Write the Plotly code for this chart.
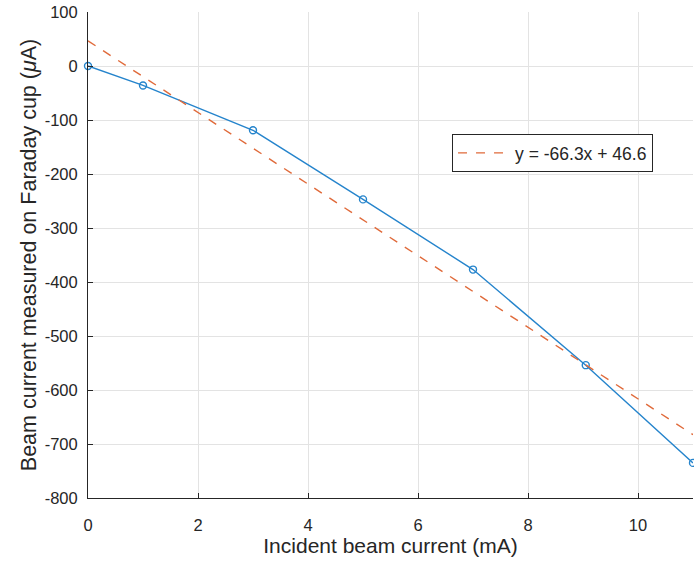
import plotly.graph_objects as go

x_vals = [0, 1, 3, 5, 7, 9.05, 11]
y_vals = [0, -36, -119, -247, -377, -554, -735]
fit_slope = -66.3
fit_intercept = 46.6
fit_x = [0, 11]
fit_label = "y = -66.3x + 46.6"
x_ticks = [0, 2, 4, 6, 8, 10]
y_ticks = [100, 0, -100, -200, -300, -400, -500, -600, -700, -800]

fit_y = [fit_slope * v + fit_intercept for v in fit_x]

fig = go.Figure()
fig.add_trace(go.Scatter(
    x=x_vals, y=y_vals, mode="lines+markers",
    line=dict(color="#2584CC", width=1.4),
    marker=dict(symbol="circle-open", size=7, color="#2584CC", line=dict(width=1.4)),
    showlegend=False, cliponaxis=False,
))
fig.add_trace(go.Scatter(
    x=fit_x, y=fit_y, mode="lines",
    line=dict(color="#E06A3A", width=1.4, dash="dash"),
    name=fit_label, showlegend=True,
))

axis_common = dict(
    showgrid=True, gridcolor="#e3e3e3", gridwidth=1,
    showline=True, linecolor="#262626", linewidth=1,
    ticks="inside", ticklen=5, tickcolor="#262626",
    tickfont=dict(size=16.5, color="#262626"),
    zeroline=False, mirror=False, automargin=False,
    ticklabeloverflow="allow",
)

fig.update_layout(
    width=694, height=561,
    margin=dict(l=88, r=1, t=12, b=63),
    paper_bgcolor="white", plot_bgcolor="white",
    font=dict(family="Liberation Sans, Arial, sans-serif", color="#262626"),
    xaxis=dict(range=[0, 11], tickvals=x_ticks, ticktext=[str(v) for v in x_ticks],
               ticklabelstandoff=12,
               title=dict(text="Incident beam current (mA)", font=dict(size=21), standoff=4),
               **axis_common),
    yaxis=dict(range=[-800, 100], tickvals=y_ticks, ticktext=[str(v) for v in y_ticks],
               ticklabelstandoff=6,
               title=dict(text="Beam current measured on Faraday cup (<i>μ</i>A)", font=dict(size=21.5), standoff=2),
               **axis_common),
    legend=dict(x=0.6017, y=0.749, xanchor="left", yanchor="top",
                bgcolor="white", bordercolor="#262626", borderwidth=1,
                font=dict(size=17.5, color="#262626"),
                itemwidth=52, tracegroupgap=0),
)

fig.write_html(
    "out.html",
    config={"displayModeBar": False},
    post_script="document.body.style.margin='0';document.body.style.overflow='hidden';",
)
